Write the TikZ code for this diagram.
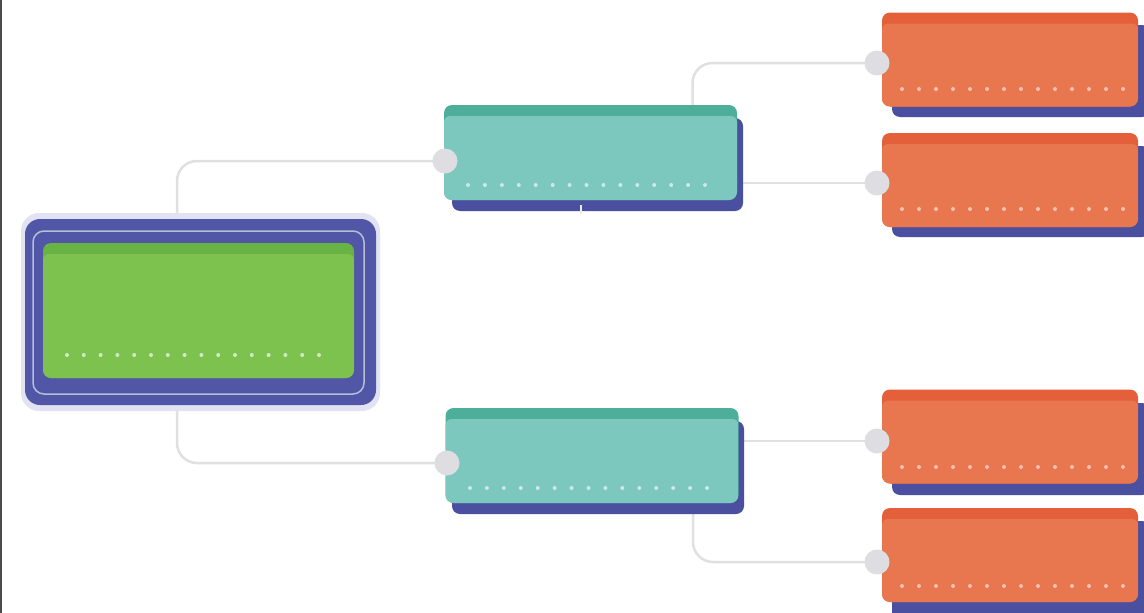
\documentclass[tikz,border=0pt]{standalone}
\usetikzlibrary{calc}
\pgfdeclarelayer{back}
\pgfdeclarelayer{bg}
\pgfsetlayers{back,bg,main}
\definecolor{shadowblue}{HTML}{4B4F9F}
\definecolor{ringblue}{HTML}{5256A6}
\definecolor{haloc}{HTML}{E2E3F2}
\definecolor{ringc}{HTML}{B4BFD8}
\definecolor{orangemain}{HTML}{E8764F}
\definecolor{orangetop}{HTML}{E3603A}
\definecolor{tealmain}{HTML}{7CC7BE}
\definecolor{tealtop}{HTML}{4DAF99}
\definecolor{greenmain}{HTML}{7DC24F}
\definecolor{greentop}{HTML}{69B345}
\definecolor{knobc}{HTML}{DDDDE2}
\definecolor{connc}{HTML}{E0E0E3}
\tikzset{
  panel/.style n args={2}{draw=none, fill=#2, rounded corners=8pt, inner sep=0pt,
    path picture={\fill[#1, rounded corners=6pt] ([yshift=-11pt]path picture bounding box.north west) rectangle (path picture bounding box.south east);}},
  orangebox/.style={panel={orangemain}{orangetop}, minimum width=256pt, minimum height=94pt},
  tealbox/.style={panel={tealmain}{tealtop}, minimum width=293pt, minimum height=95pt},
  greenbox/.style={panel={greenmain}{greentop}, minimum width=311pt, minimum height=135pt},
  shadowbox/.style={fill=shadowblue, rounded corners=8pt},
  knob/.style={circle, fill=knobc, minimum size=25pt, inner sep=0pt},
  conn/.style={draw=connc, line width=2.5pt, rounded corners=20pt}
}
\begin{document}
\begin{tikzpicture}[x=1pt,y=-1pt]
\useasboundingbox (0,0) rectangle (1144,613);
\begin{pgfonlayer}{back}
\fill[white] (0,0) rectangle (1144,613);
\end{pgfonlayer}
\fill[black!70] (0,0) rectangle (1.6,613);

% green root frame
\fill[haloc, rounded corners=18pt] (21,213) rectangle (380,411);
\fill[ringblue, rounded corners=15pt] (25,219) rectangle (376,405);
\draw[ringc, line width=1.5pt, rounded corners=11pt] (33,231) rectangle (364,394);
\node[greenbox] (g) at (198.5,310.5) {};
\foreach \i in {0,...,15} \fill[white!65!greenmain] (67+\i*16.8,355) circle (2pt);

% teal boxes
\fill[shadowbox] (452,118) rectangle (743,211);
\node[tealbox] (t1) at (590.5,152.5) {};
\foreach \i in {0,...,14} \fill[white!60!tealmain] (468+\i*16.93,185) circle (2pt);
\fill[shadowbox] (452,421) rectangle (744,514);
\node[tealbox] (t2) at (592,455.5) {};
\foreach \i in {0,...,14} \fill[white!60!tealmain] (470+\i*16.93,488) circle (2pt);
\draw[white!85!gray, line width=1.2pt] ([xshift=-9.5pt,yshift=-5pt]t1.south) -- ++(0,9);

% orange boxes
\fill[shadowbox] (892,25) rectangle (1150,117);
\node[orangebox] (o1) at (1010,59.5) {};
\fill[shadowbox] (892,146) rectangle (1150,237);
\node[orangebox] (o2) at (1010,180) {};
\fill[shadowbox] (892,403) rectangle (1150,495);
\node[orangebox] (o3) at (1010,436.5) {};
\fill[shadowbox] (892,521) rectangle (1150,620);
\node[orangebox] (o4) at (1010,555) {};
\foreach \y in {89,209,467,586}
  \foreach \i in {0,...,13} \fill[white!55!orangemain] (902+\i*17,\y) circle (2pt);

% knobs
\node[knob] (kt1) at (445,161) {};
\node[knob] (kt2) at (447,463) {};
\node[knob] (ko1) at (877,63) {};
\node[knob] (ko2) at (877,183) {};
\node[knob] (ko3) at (877,441) {};
\node[knob] (ko4) at (877,562) {};

% connectors
\begin{pgfonlayer}{bg}
\draw[conn] ([xshift=-21.5pt]g.north) |- (kt1.center);
\draw[conn] ([xshift=-21.5pt]g.south) |- (kt2.center);
\draw[conn] ([xshift=102pt]t1.north) |- (ko1.center);
\draw[conn] (t1.east |- ko2) -- (ko2.center);
\draw[conn] (t2.east |- ko3) -- (ko3.center);
\draw[conn] ([xshift=101pt]t2.south) |- (ko4.center);
\end{pgfonlayer}
\end{tikzpicture}
\end{document}
